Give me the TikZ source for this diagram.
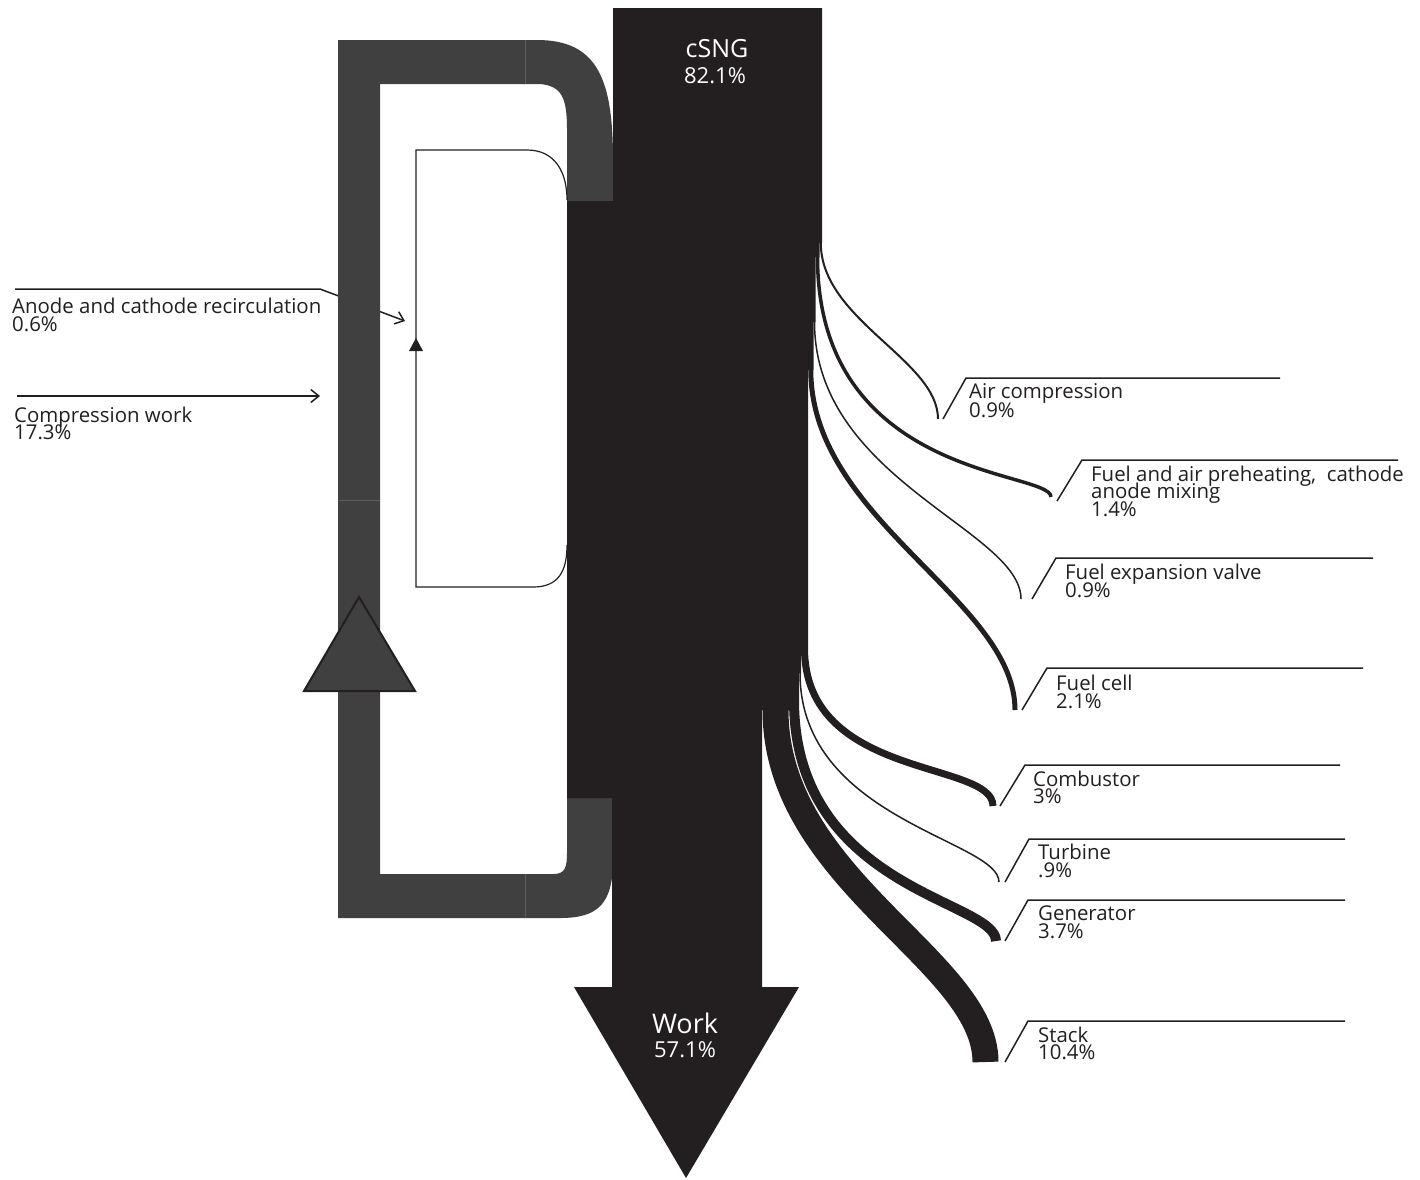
\documentclass[tikz,border=0pt]{standalone}
\usepackage{fontspec}
\setmainfont{Open Sans}
\usetikzlibrary{arrows.meta}
\definecolor{ink}{HTML}{231F20}
\definecolor{loopgray}{HTML}{404040}
\definecolor{seamgray}{HTML}{5E5E5E}
\begin{document}
\begin{tikzpicture}[x=1pt,y=-1pt,
  lbl/.style={anchor=base west, inner sep=0pt, text=ink, font=\fontsize{20.4}{18}\selectfont},
  bigtxt/.style={anchor=base, inner sep=0pt, text=white, font=\fontsize{22}{22}\selectfont},
  worktxt/.style={anchor=base, inner sep=0pt, text=white, font=\fontsize{27}{27}\selectfont},
  csngtxt/.style={anchor=base, inner sep=0pt, text=white, font=\fontsize{25}{25}\selectfont},
  flow/.style={draw=ink, line cap=butt},
  leader/.style={draw=ink, line width=1.5pt},
  inarrow/.style={draw=ink, line width=1.5pt, -{Straight Barb[length=8pt,width=13pt]}},
  thinline/.style={draw=ink, line width=1.2pt},
  seam/.style={draw=seamgray, line width=0.6pt}]
\useasboundingbox (0,0) rectangle (1420,1179);

% ---- incoming arrows (pass behind the gray loop)
\coordinate (anS) at (15,289);
\coordinate (anK) at (320,289);
\coordinate (anE) at (405,321);
\draw[inarrow] (anS) -- (anK) -- (anE);
\coordinate (cwS) at (17,396);
\coordinate (cwE) at (320,396);
\draw[inarrow] (cwS) -- (cwE);

% ---- gray recirculation loop
\fill[loopgray] (338,40) -- (525,40) -- (525,84) -- (380,84) -- (380,874) -- (525,874) -- (525,918) -- (338,918) -- cycle;
\fill[loopgray] (524,40) -- (537,40) .. controls (598,40) and (613,80) .. (613,160) -- (613,202) -- (567,202) -- (567,130) .. controls (567,98) and (562,86) .. (540,84) -- (524,84) -- cycle;
\fill[loopgray] (524,874) -- (553,874) .. controls (565,874) and (567,868) .. (567,852) -- (567,797) -- (613,797) -- (613,860) .. controls (613,905) and (597,918) .. (560,918) -- (524,918) -- cycle;
\draw[seam] (525,40) -- (525,84);
\draw[seam] (525,874) -- (525,918);
\draw[seam] (338,500) -- (380,500);
\filldraw[fill=loopgray, draw=ink, line width=2pt, line join=miter] (359,597) -- (415,691) -- (304,691) -- cycle;

% ---- thin inner loop
\draw[thinline] (567,200) .. controls (567,172) and (555,150) .. (527,150) -- (416,150) -- (416,587) -- (533,587) .. controls (558,587) and (567,572) .. (567,545);
\fill[ink] (416,338) -- (423,351) -- (409,351) -- cycle;

% ---- main black column with Work arrow
\fill[ink] (613,8) -- (822,8) -- (822,243) -- (819.5,243) -- (819.5,257) -- (815.5,257) -- (815.5,322) -- (813.5,322) -- (813.5,370) -- (808,370) -- (808,648) -- (801,648) -- (801,673) -- (799,673) -- (799,700) -- (789,700) -- (789,710) -- (762,710) -- (762,987) -- (799,987) -- (686,1178) -- (574,987) -- (612,987) -- (612,798) -- (567,798) -- (567,201) -- (613,201) -- cycle;

\node[csngtxt] (csng) at (717,57) {cSNG};
\node[bigtxt] (csngp) at (715,83) {82.1\%};
\node[worktxt] (work) at (685,1033) {Work};
\node[bigtxt] (workp) at (685,1057) {57.1\%};

% ---- outgoing loss flows
\coordinate (airS) at (820.8,243);   \coordinate (airE) at (938,419);
\coordinate (preS) at (817.5,257);   \coordinate (preE) at (1051,497);
\coordinate (fexS) at (814.5,322);   \coordinate (fexE) at (1021,599);
\coordinate (fceS) at (810.8,370);   \coordinate (fceE) at (1015,710);
\coordinate (comS) at (804.5,648);   \coordinate (comE) at (993,806);
\coordinate (turS) at (800,673);     \coordinate (turE) at (999,882);
\coordinate (genS) at (794,700);     \coordinate (genE) at (996,941);
\coordinate (staS) at (775.5,710);   \coordinate (staE) at (985.5,1062);

\draw[flow, line width=2pt]   (airS) .. controls +(0,77)  and +(0,-59)  .. (airE);
\draw[flow, line width=3.5pt] (preS) .. controls +(0,223) and +(0,-27)  .. (preE);
\draw[flow, line width=1.5pt] (fexS) .. controls +(0,158) and +(0,-69)  .. (fexE);
\draw[flow, line width=5pt]   (fceS) .. controls +(0,150) and +(0,-110) .. (fceE);
\draw[flow, line width=7pt]   (comS) .. controls +(0,132) and +(0,-46)  .. (comE);
\draw[flow, line width=1.5pt] (turS) .. controls +(0,147) and +(0,-42)  .. (turE);
\draw[flow, line width=10pt]  (genS) .. controls +(0,190) and +(0,-41)  .. (genE);
\draw[flow, line width=26pt]  (staS) .. controls +(0,170) and +(0,-102) .. (staE);

% ---- leaders
\coordinate (airB) at (943,419);  \coordinate (airT) at (966,378);  \coordinate (airR) at (1280,378);
\coordinate (preB) at (1057,501); \coordinate (preT) at (1082,460); \coordinate (preR) at (1398,460);
\coordinate (fexB) at (1032,599); \coordinate (fexT) at (1056,558); \coordinate (fexR) at (1373,558);
\coordinate (fceB) at (1022,710); \coordinate (fceT) at (1047,668); \coordinate (fceR) at (1363,668);
\coordinate (comB) at (1000,806); \coordinate (comT) at (1025,765); \coordinate (comR) at (1340,765);
\coordinate (turB) at (1005,882); \coordinate (turT) at (1029,839); \coordinate (turR) at (1345,839);
\coordinate (genB) at (1005,941); \coordinate (genT) at (1028,900); \coordinate (genR) at (1345,900);
\coordinate (staB) at (1005,1062);\coordinate (staT) at (1028,1021);\coordinate (staR) at (1345,1021);
\foreach \n in {air,pre,fex,fce,com,tur,gen,sta}
  \draw[leader] (\n B) -- (\n T) -- (\n R);

% ---- labels
\node[lbl] (an1) at (12,313) {Anode and cathode recirculation};
\node[lbl] (an2) at (12,331) {0.6\%};
\node[lbl] (cw1) at (14,422) {Compression work};
\node[lbl] (cw2) at (14,439) {17.3\%};
\node[lbl] (air1) at (969,398) {Air compression};
\node[lbl] (air2) at (969,417) {0.9\%};
\node[lbl] (pre1) at (1091,481) {Fuel and air preheating,~ cathode};
\node[lbl] (pre2) at (1091,498) {anode mixing};
\node[lbl] (pre3) at (1091,516) {1.4\%};
\node[lbl] (fex1) at (1065,579) {Fuel expansion valve};
\node[lbl] (fex2) at (1065,597) {0.9\%};
\node[lbl] (fce1) at (1056,690) {Fuel cell};
\node[lbl] (fce2) at (1056,708) {2.1\%};
\node[lbl] (com1) at (1033,786) {Combustor};
\node[lbl] (com2) at (1033,803) {3\%};
\node[lbl] (tur1) at (1038,859) {Turbine};
\node[lbl] (tur2) at (1038,877) {.9\%};
\node[lbl] (gen1) at (1038,920) {Generator};
\node[lbl] (gen2) at (1038,938) {3.7\%};
\node[lbl] (sta1) at (1038,1042) {Stack};
\node[lbl] (sta2) at (1038,1059) {10.4\%};
\end{tikzpicture}
\end{document}
